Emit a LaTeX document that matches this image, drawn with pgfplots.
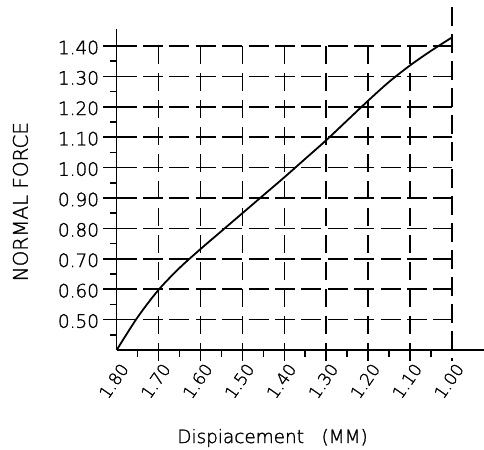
\documentclass[border=0pt]{standalone}
\usepackage{fontspec}
\setmainfont{DejaVu Sans ExtraLight}[FakeBold=1.5]
\usepackage{pgfplots}
\pgfplotsset{compat=1.18}

\begin{document}
\begin{tikzpicture}
\begin{axis}[
    at={(116.7bp,100bp)}, anchor=south west,
    x=419bp, y=304bp,
    x dir=reverse,
    xmin=0.923, xmax=1.80,
    ymin=0.40, ymax=1.456,
    axis x line=bottom, axis y line=left,
    axis line style={line width=1.6bp, -},
    clip=false,
    xtick={1.0,1.1,1.2,1.3,1.4,1.5,1.6,1.7,1.8},
    xticklabels={1.00,1.10,1.20,1.30,1.40,1.50,1.60,1.70,1.80},
    ytick={0.5,0.6,0.7,0.8,0.9,1.0,1.1,1.2,1.3,1.4},
    yticklabels={0.50,0.60,0.70,0.80,0.90,1.00,1.10,1.20,1.30,1.40},
    minor xtick={1.75,1.65,1.55,1.45,1.35,1.25,1.15,1.05},
    minor ytick={0.45,0.55,0.65,0.75,0.85,0.95,1.05,1.15,1.25,1.35},
    tick align=outside,
    major tick length=0pt,
    minor tick length=7bp,
    every tick/.style={line width=1.6bp, black},
    xticklabel style={font=\fontsize{17}{18}\selectfont, inner sep=0pt,
        anchor=center, xshift=-3bp, yshift=-31bp, rotate=55},
    yticklabel style={font=\fontsize{18.5}{20}\selectfont, inner sep=0pt,
        anchor=east, xshift=-17.5bp, yshift=-1.5bp},
    xlabel={Dispiacement\ \ \ (MM)},
    ylabel={NORMAL FORCE},
    xlabel style={font=\fontsize{18.5}{20}\selectfont, inner sep=0pt,
        at={(axis description cs:0.424,-0.274)}, anchor=center},
    ylabel style={font=\fontsize{20}{22}\selectfont, inner sep=0pt,
        at={(axis description cs:-0.262,0.462)}, anchor=center, rotate=0},
]

% grid: horizontal rows
\pgfplotsinvokeforeach{0.5,0.6,0.7,0.8,0.9,1.0,1.1,1.2,1.3,1.4}{
  \draw[line width=1.6bp] (axis cs:1.833,#1) -- (axis cs:1.80,#1);
  \draw[line width=1.6bp, dash pattern=on 20bp off 6.4bp]
    (axis cs:1.80,#1) -- (axis cs:1.00,#1);
}
% grid: columns
\pgfplotsinvokeforeach{1.7,1.6,1.5,1.4,1.3,1.2,1.1}{
  \draw[line width=1.6bp, dash pattern=on 18.5bp off 8.5bp]
    (axis cs:#1,1.40) -- (axis cs:#1,0.364);
}
\draw[line width=1.6bp, dash pattern=on 18.5bp off 8.5bp]
  (axis cs:1.00,1.528) -- (axis cs:1.00,0.364);

\addplot[black, line width=1.8bp, smooth] coordinates {
(1.80,0.400)
(1.75,0.508)
(1.70,0.598)
(1.65,0.670)
(1.60,0.732)
(1.55,0.791)
(1.50,0.850)
(1.45,0.909)
(1.40,0.968)
(1.35,1.029)
(1.30,1.090)
(1.25,1.155)
(1.20,1.220)
(1.15,1.282)
(1.10,1.336)
(1.05,1.384)
(1.00,1.428)
};
\end{axis}
\pgfresetboundingbox
\path[use as bounding box] (0,0) rectangle (484bp,450bp);
\end{tikzpicture}
\end{document}
